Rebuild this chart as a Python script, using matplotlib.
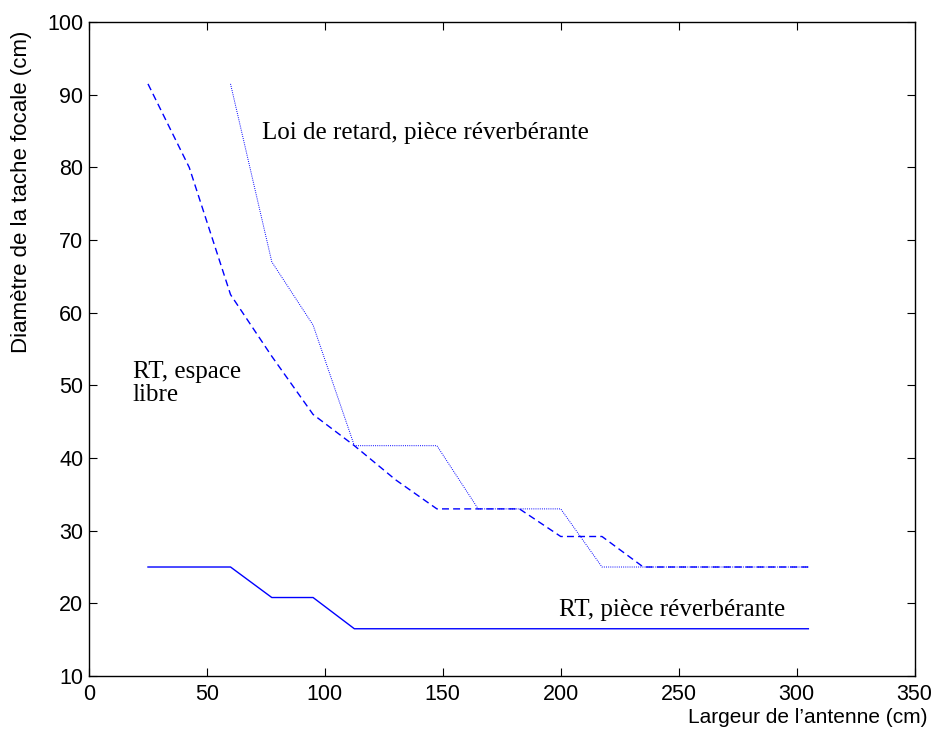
import matplotlib
matplotlib.use("Agg")
import matplotlib.pyplot as plt

# antenna width (cm)
x_rt_libre = [25, 42.5, 60, 77.5, 95, 112.5, 130, 147.5, 165, 182.5, 200, 217.5, 235, 252.5, 270, 287.5, 305]
y_rt_libre = [91.5, 80, 62.5, 54, 46, 41.7, 37, 33, 33, 33, 29.2, 29.2, 25, 25, 25, 25, 25]

x_loi = [60, 77.5, 95, 112.5, 130, 147.5, 165, 182.5, 200, 217.5, 235, 252.5, 270, 287.5, 305]
y_loi = [91.5, 67, 58.3, 41.7, 41.7, 41.7, 33, 33, 33, 25, 25, 25, 25, 25, 25]

x_rt_piece = [25, 42.5, 60, 77.5, 95, 112.5, 130, 147.5, 165, 182.5, 200, 217.5, 235, 252.5, 270, 287.5, 305]
y_rt_piece = [25, 25, 25, 20.8, 20.8, 16.5, 16.5, 16.5, 16.5, 16.5, 16.5, 16.5, 16.5, 16.5, 16.5, 16.5, 16.5]

xticks = [0, 50, 100, 150, 200, 250, 300, 350]
yticks = [10, 20, 30, 40, 50, 60, 70, 80, 90, 100]

plt.rcParams['font.family'] = ['Liberation Sans', 'DejaVu Sans']

fig = plt.figure(figsize=(9.37, 7.43), dpi=100)
ax = fig.add_axes([0.095, 0.0902, 0.881, 0.880])

ax.plot(x_rt_libre, y_rt_libre, color='blue', lw=1.0, ls=(0, (5, 3)))
ax.plot(x_loi, y_loi, color='blue', lw=0.7, ls=(0, (1, 1.2)))
ax.plot(x_rt_piece, y_rt_piece, color='blue', lw=1.0, ls='-')

ax.set_xlim(0, 350)
ax.set_ylim(10, 100)
ax.set_xticks(xticks)
ax.set_yticks(yticks)
ax.tick_params(direction='in', top=True, right=True, labelsize=15.5, length=6, width=0.8)
ax.tick_params(axis='x', pad=6)
ax.tick_params(axis='y', pad=4)
for s in ax.spines.values():
    s.set_linewidth(1.0)

serif = dict(family=['Liberation Serif', 'DejaVu Serif'], fontsize=18)
ax.text(73.3, 84.7, "Loi de retard, pièce réverbérante", va='center', ha='left', **serif)
ax.text(18.6, 50.3, "RT, espace\nlibre", va='center', ha='left', linespacing=1.05, **serif)
ax.text(295, 19.1, "RT, pièce réverbérante", va='center', ha='right', **serif)

ax.set_xlabel("Largeur de l\u2019antenne (cm)", fontsize=15, ha='right')
ax.xaxis.set_label_coords(1.016, -0.049)
ax.set_ylabel("Diamètre de la tache focale (cm)", fontsize=16)
ax.yaxis.set_label_coords(-0.069, 0.74)

fig.savefig("out.png", dpi=100)
